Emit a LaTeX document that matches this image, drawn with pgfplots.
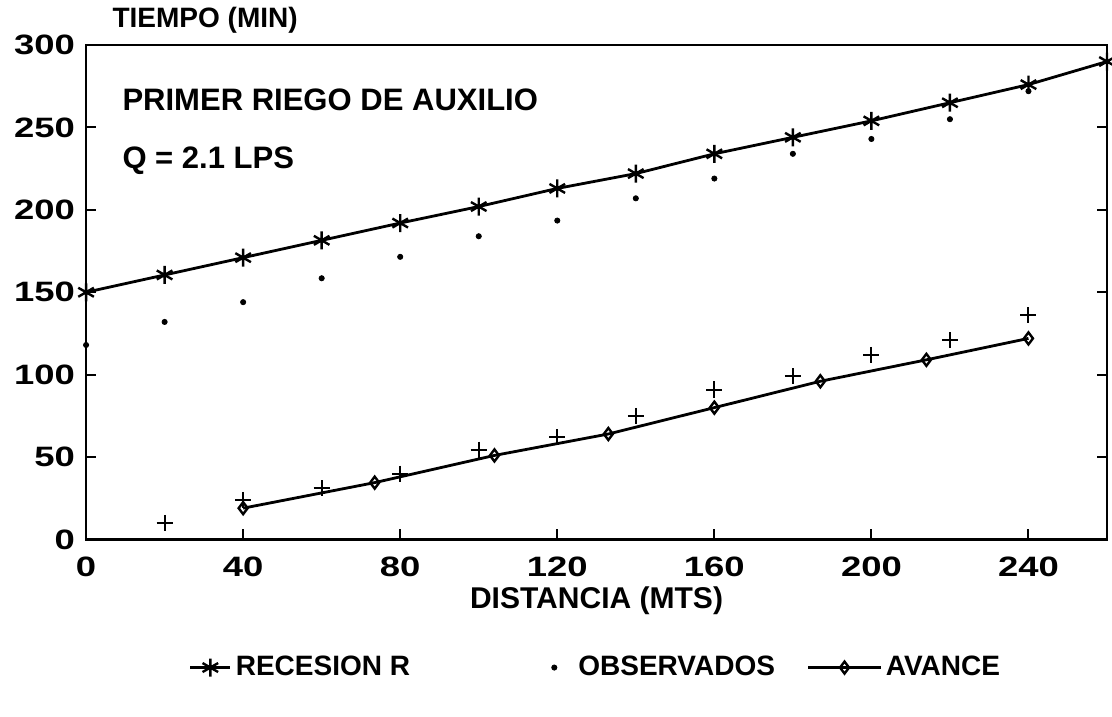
\documentclass[border=0pt]{standalone}
\usepackage{fontspec}
\setmainfont{Liberation Sans}
\newfontfamily\tickfont{Liberation Sans}[FakeStretch=1.3]
\usepackage{pgfplots}
\pgfplotsset{compat=1.18}
\pgfplotsset{
  recleg/.style={legend image code/.code={\draw[mark repeat=2,mark phase=2,##1] plot coordinates {(0pt,0pt) (10pt,0pt) (20pt,0pt)};}},
  obsleg/.style={legend image code/.code={\path[draw=none] (0pt,0pt) -- (20pt,0pt); \draw[##1] plot[only marks] coordinates {(10pt,0pt)};}},
  avleg/.style={legend image code/.code={\draw[mark repeat=2,mark phase=2,##1] plot coordinates {(0pt,0pt) (18pt,0pt) (36pt,0pt)};}},
}
\begin{document}
\begin{tikzpicture}
\begin{axis}[name=ax, at={(0,0)}, anchor=south west,
  width=510pt, height=247pt, scale only axis,
  xmin=0, xmax=260, ymin=0, ymax=300,
  xtick={0,40,...,240}, ytick={0,50,...,300},
  tick align=inside, xtick pos=left, ytick pos=both,
  major tick length=5pt,
  axis line style={line width=1.3pt},
  every tick/.style={line width=1pt, black},
  /pgf/number format/assume math mode=true,
  ticklabel style={font=\tickfont\bfseries\fontsize{14}{14}\selectfont},
  yticklabel style={xshift=-2pt},
  xticklabel style={yshift=-5pt},
  legend columns=3,
  legend style={at={(0.5,-0.259)}, anchor=center, draw=none, fill=none,
    font=\bfseries\fontsize{14}{16}\selectfont,
    /tikz/column 2/.style={column sep=60pt},
    /tikz/column 4/.style={column sep=14pt}},
  clip=false,
]
\addplot[black, line width=1.4pt, mark=asterisk, mark size=4.5pt, mark options={line width=1.2pt}, recleg]
coordinates {(0,150) (20,160.5) (40,171) (60,181.5) (80,192) (100,202) (120,213) (140,222) (160,234) (180,244) (200,254) (220,265) (240,276) (260,290)};
\addlegendentry{RECESION R}
\addplot[black, only marks, mark=*, mark size=1.3pt, obsleg]
coordinates {(0,118) (20,132) (40,144) (60,158.5) (80,171.5) (100,184) (120,193.5) (140,207) (160,219) (180,234) (200,243) (220,255) (240,272)};
\addlegendentry{OBSERVADOS}
\addplot[black, line width=1.4pt, mark=diamond, mark size=3pt, mark options={line width=1.2pt, fill=white}, avleg]
coordinates {(40,19) (73.5,34.5) (104,51) (133,64) (160,80) (187,96) (214,109) (240,122)};
\addlegendentry{AVANCE}
\addplot[black, only marks, mark=+, mark size=4pt, mark options={line width=1pt}, forget plot]
coordinates {(20,10) (40,24) (60,31) (80,40) (100,54.5) (120,62) (140,75) (160,91) (180,99) (200,112) (220,121) (240,136)};
\node[anchor=west, inner sep=0pt, font=\bfseries\fontsize{15.5}{16}\selectfont] at (axis description cs:0.0353,0.889) {PRIMER RIEGO DE AUXILIO};
\node[anchor=west, inner sep=0pt, font=\bfseries\fontsize{15.5}{16}\selectfont] at (axis description cs:0.0353,0.767) {Q = 2.1 LPS};
\node[anchor=west, inner sep=0pt, font=\bfseries\fontsize{14}{16}\selectfont] at (axis description cs:0.0255,1.0506) {TIEMPO (MIN)};
\node[anchor=center, inner sep=0pt, font=\bfseries\fontsize{15}{16}\selectfont] at (axis description cs:0.5,-0.1235) {DISTANCIA (MTS)};
\end{axis}
\pgfresetboundingbox
\path ([shift={(-43pt,-88.5pt)}]ax.south west) rectangle ([shift={(2.5pt,22.5pt)}]ax.north east);
\end{tikzpicture}
\end{document}
